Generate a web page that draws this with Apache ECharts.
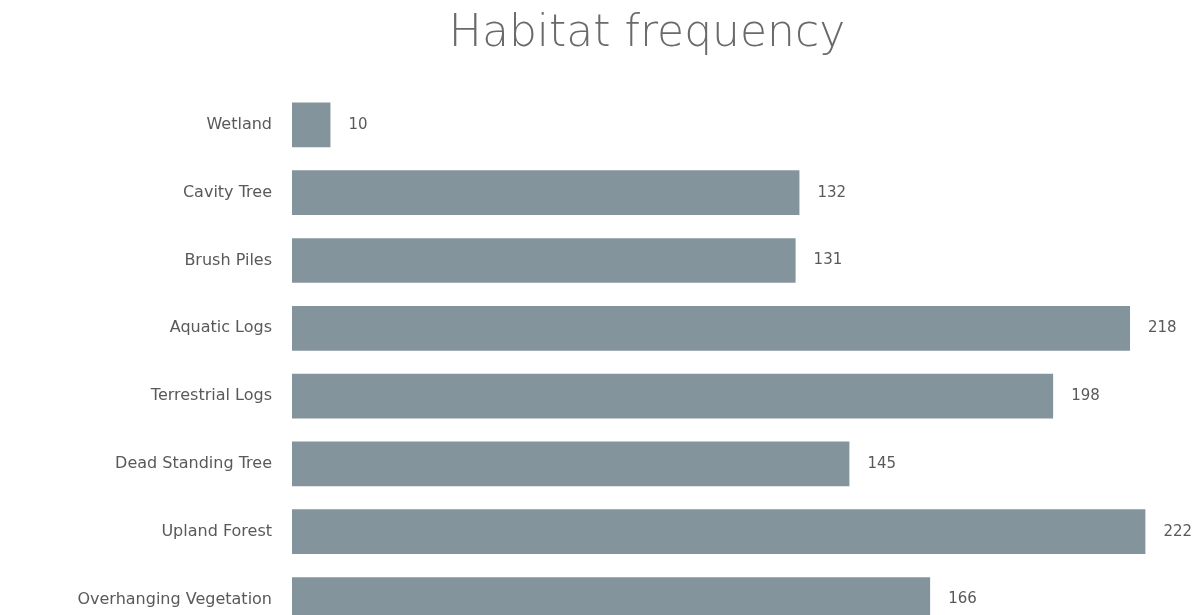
<!DOCTYPE html>
<html>
<head>
<meta charset="utf-8">
<script src="https://cdn.jsdelivr.net/npm/echarts@6/dist/echarts.min.js"></script>
<style>
html,body{margin:0;padding:0;background:#fff;}
#c{width:1204px;height:615px;}
</style>
</head>
<body>
<div id="c"></div>
<script>
const titleText = 'Habitat frequency';
const categories = ['Wetland','Cavity Tree','Brush Piles','Aquatic Logs','Terrestrial Logs','Dead Standing Tree','Upland Forest','Overhanging Vegetation'];
const values = [10,132,131,218,198,145,222,166];

const chart = echarts.init(document.getElementById('c'));
chart.setOption({
  backgroundColor: '#ffffff',
  animation: false,
  title: {
    text: titleText,
    left: 642,
    top: 8,
    textAlign: 'center',
    textStyle: {
      fontFamily: 'DejaVu Sans',
      fontWeight: 300,
      fontSize: 44,
      color: '#6a6a6a'
    }
  },
  grid: {
    left: 292,
    width: 853.4,
    top: 91,
    height: 542.4,
    containLabel: false,
    outerBoundsMode: 'none'
  },
  xAxis: {
    type: 'value',
    min: 0,
    max: 222,
    show: false
  },
  yAxis: {
    type: 'category',
    data: categories,
    inverse: true,
    axisLine: {show: false},
    axisTick: {show: false},
    splitLine: {show: false},
    axisLabel: {
      margin: 20,
      fontFamily: 'DejaVu Sans',
      fontSize: 16,
      color: '#595959'
    }
  },
  series: [{
    type: 'bar',
    data: values,
    barCategoryGap: '34%',
    itemStyle: {color: '#84949c'},
    label: {
      show: true,
      position: 'right',
      distance: 18,
      fontFamily: 'DejaVu Sans',
      fontSize: 15,
      color: '#595959'
    }
  }]
});
</script>
</body>
</html>
